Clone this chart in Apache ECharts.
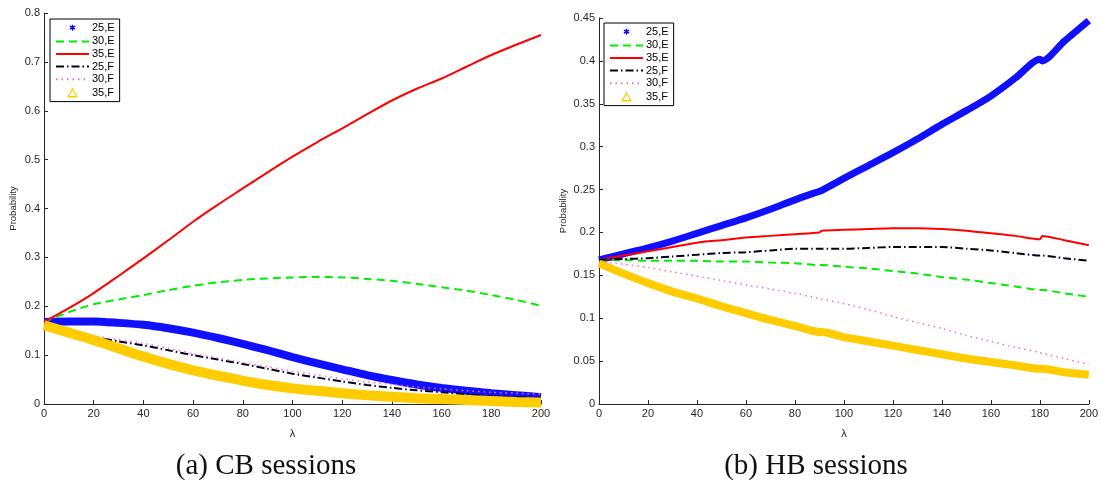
<!DOCTYPE html>
<html>
<head>
<meta charset="utf-8">
<script src="https://cdn.jsdelivr.net/npm/echarts@6/dist/echarts.min.js"></script>
<style>
  html, body { margin: 0; padding: 0; background: #fff; }
  #chart { width: 1101px; height: 487px; }
</style>
</head>
<body>
<div id="chart"></div>
<script>
// (a) CB sessions
const lambdaCB = [0, 10, 20, 30, 40, 50, 60, 70, 80, 90, 100, 110, 120, 130, 140, 150, 160, 170, 180, 190, 200];
const cb25E = [0.168, 0.169, 0.169, 0.166, 0.162, 0.155, 0.146, 0.135, 0.123, 0.110, 0.096, 0.083, 0.071, 0.059, 0.049, 0.040, 0.033, 0.027, 0.022, 0.018, 0.014];
const cb30E = [0.168, 0.188, 0.204, 0.214, 0.223, 0.233, 0.242, 0.249, 0.254, 0.257, 0.259, 0.260, 0.259, 0.256, 0.252, 0.246, 0.239, 0.232, 0.223, 0.213, 0.201];
const cb35E = [0.168, 0.196, 0.227, 0.262, 0.298, 0.335, 0.373, 0.408, 0.441, 0.474, 0.506, 0.536, 0.564, 0.593, 0.621, 0.645, 0.666, 0.690, 0.714, 0.735, 0.755];
const cb25F = [0.165, 0.150, 0.137, 0.128, 0.120, 0.110, 0.100, 0.091, 0.082, 0.072, 0.062, 0.054, 0.046, 0.039, 0.033, 0.028, 0.024, 0.020, 0.016, 0.014, 0.012];
const cb30F = [0.166, 0.152, 0.140, 0.132, 0.124, 0.114, 0.103, 0.094, 0.085, 0.076, 0.067, 0.059, 0.052, 0.045, 0.040, 0.035, 0.031, 0.027, 0.024, 0.022, 0.020];
const cb35F = [0.161, 0.146, 0.131, 0.114, 0.097, 0.082, 0.069, 0.058, 0.048, 0.039, 0.032, 0.027, 0.022, 0.018, 0.015, 0.012, 0.010, 0.008, 0.006, 0.004, 0.003];

// (b) HB sessions
const lambdaHB = [0, 10, 20, 30, 40, 50, 60, 70, 80, 90, 91, 100, 110, 120, 130, 140, 150, 160, 170, 180, 181, 190, 200];
const hb25E = [0.168, 0.175, 0.182, 0.190, 0.199, 0.208, 0.217, 0.227, 0.238, 0.248, 0.249, 0.263, 0.278, 0.293, 0.309, 0.326, 0.342, 0.359, 0.380, 0.402, 0.400, 0.423, 0.447];
const hb30E = [0.168, 0.168, 0.167, 0.167, 0.167, 0.166, 0.166, 0.165, 0.164, 0.162, 0.162, 0.160, 0.158, 0.155, 0.152, 0.148, 0.145, 0.141, 0.137, 0.133, 0.133, 0.129, 0.125];
const hb35E = [0.168, 0.173, 0.178, 0.183, 0.188, 0.191, 0.194, 0.196, 0.198, 0.200, 0.202, 0.203, 0.204, 0.205, 0.205, 0.204, 0.202, 0.199, 0.196, 0.192, 0.196, 0.191, 0.185];
const hb25F = [0.168, 0.169, 0.170, 0.172, 0.174, 0.176, 0.177, 0.179, 0.181, 0.181, 0.181, 0.181, 0.182, 0.183, 0.183, 0.183, 0.181, 0.179, 0.176, 0.173, 0.173, 0.170, 0.167];
const hb30F = [0.166, 0.163, 0.159, 0.154, 0.149, 0.144, 0.139, 0.134, 0.129, 0.123, 0.122, 0.117, 0.110, 0.102, 0.095, 0.088, 0.080, 0.073, 0.066, 0.060, 0.059, 0.053, 0.046];
const hb35F = [0.164, 0.152, 0.141, 0.131, 0.123, 0.114, 0.106, 0.098, 0.091, 0.084, 0.084, 0.078, 0.073, 0.068, 0.063, 0.058, 0.053, 0.049, 0.045, 0.041, 0.041, 0.037, 0.034];

const names = ["25,E", "30,E", "35,E", "25,F", "30,F", "35,F"];
const captions = ["(a) CB sessions", "(b) HB sessions"];

const chart = echarts.init(document.getElementById("chart"));
const font = "Liberation Sans, Arial, Helvetica, sans-serif";
const axisColor = "#262626";

const pairs = (xs, ys) => xs.map((x, i) => [x, ys[i]]);

// marker-only entries get a small glyph centred in a 33x12 box
const starIcon = "path://M0 0M33 12M16.5 3L16.5 9M13.9 4.5L19.1 7.5M13.9 7.5L19.1 4.5";
const triIcon = "path://M0 0M33 12M16.5 1.8L20.8 9.8L12.2 9.8Z";
const noDot = { opacity: 0 };

const legendData = [
  { name: "25,E", icon: starIcon, itemStyle: { color: "#0000ff", borderColor: "#0000ff", borderWidth: 1.3 } },
  { name: "30,E", itemStyle: noDot },
  { name: "35,E", itemStyle: noDot },
  { name: "25,F", itemStyle: noDot },
  { name: "30,F", itemStyle: noDot },
  { name: "35,F", icon: triIcon, itemStyle: { color: "#ffffff", borderColor: "#ffcc00", borderWidth: 1.3 } },
];

const makeLegend = (left, top) => ({
  orient: "vertical",
  left,
  top,
  data: legendData,
  itemWidth: 33,
  itemHeight: 12,
  itemGap: 1.6,
  padding: [2, 5, 2, 5],
  backgroundColor: "#fff",
  borderColor: "#000",
  borderWidth: 1,
  borderRadius: 0,
  textStyle: { fontFamily: font, fontSize: 11, color: "#000", padding: [0, 0, 0, -2] },
  selectedMode: false,
});

const xAxisOf = (gridIndex) => ({
  type: "value",
  gridIndex,
  min: 0,
  max: 200,
  interval: 20,
  name: "λ",
  nameLocation: "middle",
  nameGap: 24,
  nameTextStyle: { fontFamily: font, fontSize: 11, color: axisColor },
  axisLine: { lineStyle: { color: axisColor, width: 1 } },
  axisTick: { inside: true, length: 4, lineStyle: { color: axisColor } },
  axisLabel: { margin: 4, fontFamily: font, fontSize: 11, color: axisColor },
  splitLine: { show: false },
});

const yAxisOf = (gridIndex, max, interval, gap) => ({
  type: "value",
  gridIndex,
  min: 0,
  max,
  interval,
  name: "Probability",
  nameLocation: "middle",
  nameGap: gap,
  nameTextStyle: { fontFamily: font, fontSize: 9.5, color: axisColor },
  axisLine: { show: true, lineStyle: { color: axisColor, width: 1 } },
  axisTick: { show: true, inside: true, length: 4, lineStyle: { color: axisColor } },
  axisLabel: { margin: 4, fontFamily: font, fontSize: 11, color: axisColor },
  splitLine: { show: false },
});

const makeSeries = (idx, xs, sets, bandW) => {
  const base = { type: "line", xAxisIndex: idx, yAxisIndex: idx, symbol: "none", smooth: 0.25, clip: false, animation: false };
  return [
    { ...base, name: names[0], data: pairs(xs, sets[0]), itemStyle: { color: "#0000ff" },
      lineStyle: { color: "#1010ff", width: bandW[0] } },
    { ...base, name: names[1], data: pairs(xs, sets[1]), itemStyle: { color: "#00ee00" },
      lineStyle: { color: "#00ee00", width: 2, type: [8, 5] } },
    { ...base, name: names[2], data: pairs(xs, sets[2]), itemStyle: { color: "#ff0000" },
      lineStyle: { color: "#ff0000", width: 2, type: "solid" } },
    { ...base, name: names[3], data: pairs(xs, sets[3]), itemStyle: { color: "#000022" },
      lineStyle: { color: "#000022", width: 2, type: [8, 3, 1.5, 3] } },
    { ...base, name: names[4], data: pairs(xs, sets[4]), itemStyle: { color: "#ff66d0" },
      lineStyle: { color: "#ff66d0", width: 1.5, type: [1.5, 4] } },
    { ...base, name: names[5], data: pairs(xs, sets[5]), itemStyle: { color: "#ffcc00" },
      lineStyle: { color: "#ffcc00", width: bandW[1] } },
  ];
};

const captionFont = "29px 'Liberation Serif', 'DejaVu Serif', serif";

const option = {
  backgroundColor: "#fff",
  animation: false,
  grid: [
    { left: 44, top: 13, width: 497, height: 391 },
    { left: 599, top: 18, width: 490, height: 386 },
  ],
  xAxis: [xAxisOf(0), xAxisOf(1)],
  yAxis: [yAxisOf(0, 0.8, 0.1, 26), yAxisOf(1, 0.45, 0.05, 31)],
  legend: [makeLegend(50, 19), makeLegend(604, 23)],
  series: [
    ...makeSeries(0, lambdaCB, [cb25E, cb30E, cb35E, cb25F, cb30F, cb35F], [8, 10]),
    ...makeSeries(1, lambdaHB, [hb25E, hb30E, hb35E, hb25F, hb30F, hb35F], [7, 8]),
  ],
  graphic: [
    { type: "text", x: 266, y: 466, style: { text: captions[0], font: captionFont, fill: "#111", align: "center", verticalAlign: "middle" } },
    { type: "text", x: 816, y: 466, style: { text: captions[1], font: captionFont, fill: "#111", align: "center", verticalAlign: "middle" } },
  ],
};

chart.setOption(option);
</script>
</body>
</html>
